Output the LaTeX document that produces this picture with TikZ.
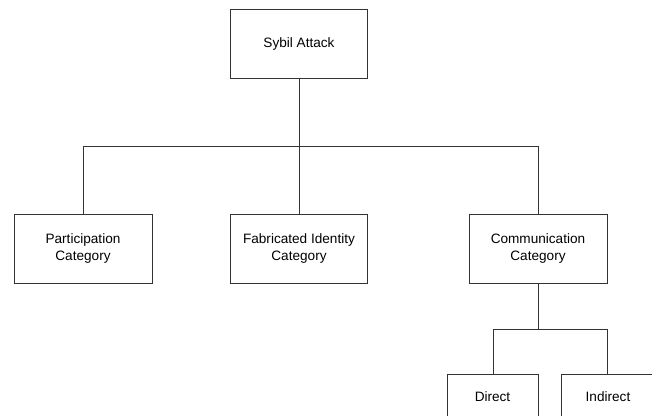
\documentclass[tikz,border=0pt]{standalone}
\usepackage{fontspec}
\setmainfont{Liberation Sans}
\begin{document}
\begin{tikzpicture}[x=1pt,y=-1pt,
  box/.style={draw=black!80,line width=1pt,fill=white,inner sep=0pt,align=center,
    font=\fontsize{13.6}{16.7}\selectfont,text=black},
  link/.style={draw=black!80,line width=1pt}]
\useasboundingbox (0,0) rectangle (652,415);
\clip (0,0) rectangle (652,415);
\node[box,minimum width=137,minimum height=69] (root) at (299,43.5) {Sybil Attack};
\node[box,minimum width=138,minimum height=69] (part) at (83,248.5) {Participation\\Category};
\node[box,minimum width=137,minimum height=69] (fab) at (299,248.5) {Fabricated Identity\\Category};
\node[box,minimum width=138,minimum height=69] (comm) at (538,248.5) {Communication\\Category};
\node[box,minimum width=91,minimum height=46] (direct) at (492.5,397) {Direct};
\node[box,minimum width=94,minimum height=46] (indirect) at (608,397) {Indirect};
\coordinate (j1) at (299,146);
\coordinate (j2) at (538,329);
\coordinate (d1) at (493,329);
\coordinate (d2) at (607,329);
\draw[link] (root.south) -- (j1);
\draw[link] (j1) -| (part.north);
\draw[link] (j1) -- (fab.north);
\draw[link] (j1) -| (comm.north);
\draw[link] (comm.south) -- (j2);
\draw[link] (j2) -- (d1) -- (d1 |- direct.north);
\draw[link] (j2) -- (d2) -- (d2 |- indirect.north);
\end{tikzpicture}
\end{document}
